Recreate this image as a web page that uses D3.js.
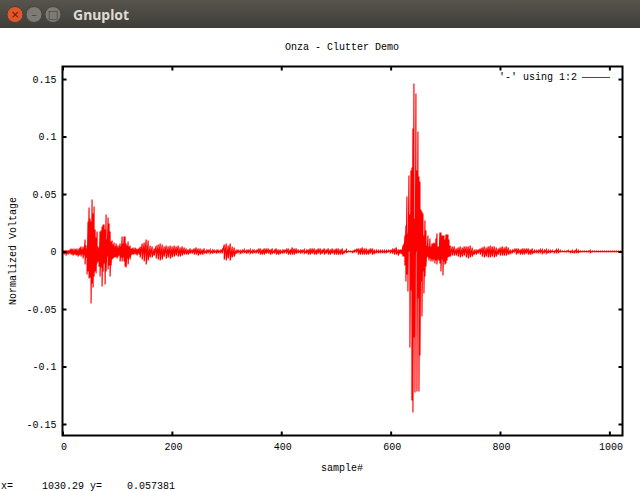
<!DOCTYPE html>
<html>
<head>
<meta charset="utf-8">
<title>Gnuplot</title>
<script src="https://cdnjs.cloudflare.com/ajax/libs/d3/7.8.5/d3.min.js"></script>
<style>
html, body { margin: 0; padding: 0; background: #fff; overflow: hidden; }
svg { display: block; }
text { font-family: "Liberation Mono", "DejaVu Sans Mono", monospace; font-size: 10px; fill: #000; }
</style>
</head>
<body>
<svg id="win" width="640" height="491"></svg>
<script>
// tick labels
var xTicks = [0, 200, 400, 600, 800, 1000];
var yTicks = [0.15, 0.1, 0.05, 0, -0.05, -0.1, -0.15];

// signal, upper and lower swing of each column, in 1/1000 of a volt
// first burst, sample 1 on, every 1.83 samples
var burst1Hi = [.9,.9,.9,.9,.9,.9,.9,1.7,2.6,1.7,2.6,.9,2.6,1.7,2.6,.9,2.6,3.5,4.4,1.7,4.4,2.6,10.4,5.2,2.6,26.1,38.3,28.7,26.1,45.2,33.1,39.2,19.1,12.2,17.4,4.4,2.6,17.4,18.3,21.8,23.5,23.5,19.1,32.2,10.4,29.6,24.4,17.4,8.7,9.6,6.1,7.8,4.4,7,5.2,3.5,5.2,7,4.4,13.1,7,13.1,13.1,7,5.2,8.7,4.4,5.2,2.6,2.6,3.5,1.7,3.5,2.6,1.7,2.6,2.6];
var burst1Lo = [1.7,2.6,1.7,3.5,1.7,2.6,1.7,1.7,2.6,2.6,3.5,2.6,2.6,3.5,2.6,4.4,3.5,2.6,4.4,2.6,6.1,3.5,11.3,5.2,20,17.4,23.5,22.6,45.2,27.8,31.3,21.8,17.4,19.1,10.4,8.7,13.1,21.8,13.9,30.5,17.4,10.4,28.7,17.4,4.4,15.7,12.2,21.8,12.2,7,6.1,5.2,5.2,4.4,6.1,4.4,3.5,8.7,5.2,8.7,5.2,8.7,13.1,13.9,6.1,11.3,5.2,7,3.5,2.6,2.6,2.6,1.7,2.6,3.5,1.7,2.6];
// quiet part after it, sample 142 on, every 3.66 samples
var quietHi = [4.4,7,7.8,10.4,9.6,5.2,4.4,2.6,5.2,6.1,7,6.1,4.4,5.2,4.4,5.2,4.4,5.2,4.4,5.2,3.5,4.4,3.5,2.6,1.7,2.6,1.7,2.6,3.5,2.6,2.6,1.7,2.6,.9,1.7,1.7,.9,1.7,.9,1.7,.9,1.7,6.1,7,5.2,7,4.4,3.5,1.7,1.7,.9,.9,1.7,.9,1.7,1.7,.9,1.7,.9,1.7,2.6,1.7,2.6,2.6,2.6,1.7,2.6,.9,2.6,1.7,1.7,.9,1.7,1.7,2.6,1.7,3.5,2.6,2.6,1.7,.9,1.7,1.7,.9,1.7,2.6,2.6,2.6,1.7,2.6,2.6,1.7,2.6,1.7,2.6,1.7,2.6,1.7,2.6,2.6,1.7,2.6,.9,1.7,.4,.4,.4,.9,1.7,2.6,2.6,3.5,2.6,2.6,1.7,2.6,2.6,1.7,.9,.9,.9,.9,.9,.9,.9,.9,1.7,2.6,3.5,1.7];
var quietLo = [5.2,7,8.7,11.3,7.8,5.2,5.2,3.5,6.1,7,7.8,7,4.4,6.1,5.2,6.1,5.2,4.4,3.5,4.4,4.4,3.5,2.6,2.6,2.6,1.7,1.7,2.6,2.6,3.5,2.6,2.6,1.7,1.7,.9,1.7,1.7,.9,1.7,.9,.9,1.7,7,7.8,6.1,7.8,5.2,4.4,1.7,.9,1.7,.9,.9,1.7,.9,1.7,1.7,.9,.9,1.7,2.6,2.6,2.6,1.7,1.7,2.6,1.7,1.7,2.6,2.6,1.7,1.7,.9,1.7,2.6,2.6,2.6,2.6,1.7,.9,1.7,.9,1.7,1.7,2.6,2.6,1.7,2.6,2.6,1.7,2.6,1.7,2.6,1.7,2.6,2.6,1.7,2.6,2.6,2.6,2.6,2.6,.9,.9,.4,.4,.9,.4,.9,2.6,2.6,2.6,2.6,2.6,2.6,1.7,2.6,1.7,.9,.9,.9,.9,.9,.9,.4,.9,1.7,2.6,2.6,3.5];
// main burst, sample 617 on, every 1.83 samples
var burst2Hi = [1.7,1.7,1.7,5.2,7,13.9,22.6,47.9,15.7,66.1,32.2,70.5,73.1,107,146.2,28.7,137.5,70.5,104.4,65.3,60.9,36.5,34.8,33.1,13.9,27,18.3,5.2,13.9,4.4,11.3,4.4,7,7,7.8,7,11.3,15.7,4.4,4.4,16.5,16.5,13.9,13.9,13.9,10.4,14.8,14.8,14.8,10.4];
var burst2Lo = [1.7,1.7,2.6,4.4,4.4,12.2,26.1,20,34.8,0,83.5,33.9,129.6,140.1,74.8,122.7,0,121.8,40.9,121.8,90.5,26.1,56.6,17.4,36.5,21.8,13.1,4.4,5.2,7.8,6.1,8.7,7,8.7,7,10.4,7.8,11.3,7,7.8,10.4,17.4,7,20.9,8.7,11.3,10.4,7.8,5.2,4.4];
// tail, sample 709 on, every 3.66 samples
var tailHi = [5.2,4.4,4.4,2.6,3.5,4.4,3.5,4.4,4.4,4.4,5.2,3.5,1.7,1.7,1.7,2.6,3.5,4.4,3.5,4.4,5.2,4.4,4.4,3.5,2.6,3.5,4.4,3.5,4.4,3.5,1.7,.9,1.7,2.6,2.6,1.7,2.6,2.6,2.6,2.6,1.7,2.6,.9,.9,.9,1.7,1.7,.9,1.7,.9,.9,.9,.4,1.7,1.7,.9,.4,.4,.4,.9,.4,.9,.4,1.7,.9,.4,.4,.4,.4,.4,.9,.4,.4,.4,.4,.4,.4,.4,.4,.4,.4,.4,.4,.4,.4,.4];
var tailLo = [4.4,3.5,3.5,3.5,4.4,5.2,4.4,3.5,5.2,6.1,5.2,4.4,2.6,2.6,1.7,2.6,4.4,5.2,4.4,5.2,5.2,4.4,5.2,4.4,2.6,3.5,3.5,3.5,3.5,2.6,1.7,.9,.9,2.6,1.7,2.6,2.6,2.6,1.7,2.6,2.6,1.7,.9,.9,.9,.9,1.7,.9,1.7,.9,.9,.4,.9,.9,.9,.4,.4,.4,.4,.4,.9,.9,.9,.9,.9,.4,.4,.4,.4,.4,.9,.4,.4,.4,.4,.4,.4,.4,.4,.4,.4,.4,.4,.4,.4,.4];

var svg = d3.select("#win");
var margin = {top: 66.5, right: 17.5, bottom: 55.5, left: 62.5};
var width = 640 - margin.left - margin.right;
var height = 491 - margin.top - margin.bottom;

// window title bar
var grad = svg.append("defs").append("linearGradient").attr("id", "bar").attr("x1", 0).attr("x2", 0).attr("y1", 0).attr("y2", 1);
grad.append("stop").attr("offset", 0).attr("stop-color", "#57544d");
grad.append("stop").attr("offset", 1).attr("stop-color", "#3e3d38");
svg.append("rect").attr("width", 640).attr("height", 28).attr("fill", "url(#bar)");
var buttons = [
	{cx: 15, fill: "#e5562a", mark: "×", col: "#5a1f0c"},
	{cx: 34, fill: "#7c7b75", mark: "–", col: "#3e3d38"},
	{cx: 53, fill: "#7c7b75", mark: "□", col: "#3e3d38"}
];
buttons.forEach(function(b) {
	svg.append("circle").attr("cx", b.cx).attr("cy", 14.5).attr("r", 8).attr("fill", b.fill).attr("stroke", "#45433e");
	svg.append("text").attr("x", b.cx).attr("y", 18).attr("text-anchor", "middle")
		.style("font-family", "'DejaVu Sans', sans-serif").style("fill", b.col).style("font-size", "11px").text(b.mark);
});
svg.append("text").attr("x", 73).attr("y", 20)
	.style("font-family", "'Noto Sans', 'Open Sans', sans-serif").style("font-size", "14px").style("font-weight", "bold")
	.style("fill", "#dfdbd2").text("Gnuplot");

var x = d3.scaleLinear().domain([0, 1024]).range([0, width]);
var y = d3.scaleLinear().domain([-0.16, 0.1609]).range([height, 0]);
var g = svg.append("g").attr("transform", "translate(" + margin.left + "," + margin.top + ")");

// zigzag through the swing of each column
function addColumns(list, start, step, hi, lo) {
	for (var i = 0; i < hi.length; i++) {
		list.push({s: start + i * step, v: hi[i] / 1000});
		list.push({s: start + i * step, v: -lo[i] / 1000});
	}
}
var signal = [];
addColumns(signal, 1, 1.83, burst1Hi, burst1Lo);
addColumns(signal, 142, 3.66, quietHi, quietLo);
addColumns(signal, 617, 1.83, burst2Hi, burst2Lo);
addColumns(signal, 709, 3.66, tailHi, tailLo);

var line = d3.line().x(function(d) { return x(d.s); }).y(function(d) { return y(d.v); });
g.append("path")
	.datum(signal)
	.attr("fill", "none")
	.attr("stroke", "#ff0000")
	.attr("stroke-width", 1.15)
	.attr("d", line);

// axes, ticks inward on all four sides like gnuplot
function styleAxis(sel) {
	sel.select(".domain").remove();
	sel.selectAll(".tick line").attr("stroke", "#000").attr("stroke-width", 2);
}
g.append("g").attr("transform", "translate(0," + height + ")")
	.call(d3.axisBottom(x).tickValues(xTicks).tickFormat(d3.format("d")).tickSize(-4).tickPadding(7))
	.call(styleAxis)
	.selectAll("text").attr("dx", 1);
g.append("g")
	.call(d3.axisTop(x).tickValues(xTicks).tickFormat("").tickSize(-4))
	.call(styleAxis);
g.append("g")
	.call(d3.axisLeft(y).tickValues(yTicks).tickFormat(function(d) { return String(d); }).tickSize(-4).tickPadding(6))
	.call(styleAxis);
g.append("g").attr("transform", "translate(" + width + ",0)")
	.call(d3.axisRight(y).tickValues(yTicks).tickFormat("").tickSize(-4))
	.call(styleAxis);
g.selectAll(".tick text").style("font-family", "'Liberation Mono', monospace").style("font-size", "10px").style("fill", "#000");

g.append("rect").attr("width", width).attr("height", height)
	.attr("fill", "none").attr("stroke", "#000").attr("stroke-width", 2);

// labels
svg.append("text").attr("x", 342).attr("y", 50).attr("text-anchor", "middle").text("Onza - Clutter Demo");
svg.append("text").attr("x", 342).attr("y", 471).attr("text-anchor", "middle").text("sample#");
svg.append("text").attr("transform", "translate(16,251) rotate(-90)").attr("text-anchor", "middle").text("Normalized Voltage");

// key
svg.append("text").attr("x", 499).attr("y", 80).text("'-' using 1:2");
svg.append("line").attr("x1", 582).attr("x2", 610).attr("y1", 77.5).attr("y2", 77.5)
	.attr("stroke", "#ff0000").attr("stroke-width", 1);

// mouse position read out
svg.append("text").attr("x", 1).attr("y", 489).text("x=");
svg.append("text").attr("x", 42).attr("y", 489).text("1030.29");
svg.append("text").attr("x", 90).attr("y", 489).text("y=");
svg.append("text").attr("x", 127).attr("y", 489).text("0.057381");
</script>
</body>
</html>
